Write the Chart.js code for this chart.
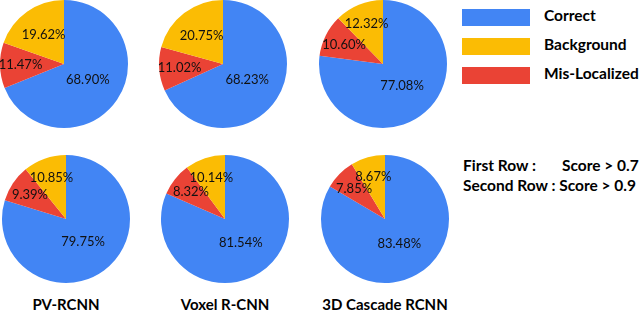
<!DOCTYPE html>
<html>
<head>
<meta charset="utf-8">
<script src="https://cdn.jsdelivr.net/npm/chart.js@4.4.1/dist/chart.umd.min.js"></script>
<style>
  html, body { margin: 0; padding: 0; background: #fff; }
  body { width: 640px; height: 312px; position: relative; overflow: hidden; font-family: Lato, "Open Sans", sans-serif; }
  .pie { position: absolute; width: 130px; height: 130px; }
  .title { position: absolute; font-weight: bold; font-size: 15px; color: #000; transform: translateX(-50%); white-space: nowrap; top: 295px; }
  .legend { position: absolute; left: 462px; font-weight: bold; font-size: 15.5px; color: #000; }
  .legend .row { position: absolute; left: 0; height: 17px; white-space: nowrap; }
  .legend .box { position: absolute; left: 0; top: 0; width: 68px; height: 17px; }
  .legend .lab { position: absolute; left: 82px; top: -3px; }
  .note { position: absolute; left: 463px; font-weight: bold; font-size: 15.5px; color: #000; white-space: nowrap; }
</style>
</head>
<body>
<canvas id="pie0" class="pie"></canvas>
<canvas id="pie1" class="pie"></canvas>
<canvas id="pie2" class="pie"></canvas>
<canvas id="pie3" class="pie"></canvas>
<canvas id="pie4" class="pie"></canvas>
<canvas id="pie5" class="pie"></canvas>
<div id="titles"></div>
<div class="legend" id="legend"></div>
<div class="note" style="top:156px">First Row :</div>
<div class="note" style="top:156px;left:562px">Score &gt; 0.7</div>
<div class="note" style="top:176px">Second Row : Score &gt; 0.9</div>
<script>
// slice order clockwise from 12 o'clock: Correct, Mis-Localized, Background
const categories = ['Correct', 'Mis-Localized', 'Background'];
const colors = ['#4285F4', '#EA4335', '#FBBC04'];
const models = ['PV-RCNN', 'Voxel R-CNN', '3D Cascade RCNN'];

// first row: score > 0.7
const row1PV = [68.90, 11.47, 19.62];
const row1Voxel = [68.23, 11.02, 20.75];
const row1Cascade = [77.08, 10.60, 12.32];
// second row: score > 0.9
const row2PV = [79.75, 9.39, 10.85];
const row2Voxel = [81.54, 8.32, 10.14];
const row2Cascade = [83.48, 7.85, 8.67];

const pieData = [row1PV, row1Voxel, row1Cascade, row2PV, row2Voxel, row2Cascade];
const colX = [64, 223, 383];
const rowY = [64, 219];

const legendOrder = [0, 2, 1];

const labelPlugin = {
  id: 'sliceLabels',
  afterDatasetsDraw(chart) {
    const { ctx } = chart;
    const meta = chart.getDatasetMeta(0);
    const values = chart.data.datasets[0].data;
    ctx.save();
    ctx.font = '13px Lato, "Open Sans", sans-serif';
    ctx.fillStyle = '#111';
    ctx.textAlign = 'center';
    ctx.textBaseline = 'middle';
    meta.data.forEach((arc, i) => {
      const { x, y, startAngle, endAngle, outerRadius } = arc.getProps(['x', 'y', 'startAngle', 'endAngle', 'outerRadius'], true);
      const mid = (startAngle + endAngle) / 2;
      const f = values[i] > 50 ? 0.45 : values[i] > 15 ? 0.55 : 0.68;
      const r = outerRadius * f;
      ctx.fillText(values[i].toFixed(2) + '%', x + Math.cos(mid) * r, y + Math.sin(mid) * r);
    });
    ctx.restore();
  },
};

pieData.forEach((values, idx) => {
  const canvas = document.getElementById('pie' + idx);
  const cx = colX[idx % 3] + (idx >= 3 ? 2 : 0);
  const cy = rowY[Math.floor(idx / 3)];
  canvas.style.left = (cx - 65) + 'px';
  canvas.style.top = (cy - 65) + 'px';
  new Chart(canvas, {
    type: 'pie',
    data: {
      labels: categories,
      datasets: [{ data: values, backgroundColor: colors, borderWidth: 0 }],
    },
    options: {
      responsive: false,
      animation: false,
      events: [],
      layout: { padding: 1 },
      plugins: { legend: { display: false }, tooltip: { enabled: false } },
    },
    plugins: [labelPlugin],
  });
});

const titles = document.getElementById('titles');
models.forEach((name, i) => {
  const el = document.createElement('div');
  el.className = 'title';
  el.textContent = name;
  el.style.left = (colX[i] + 2) + 'px';
  titles.appendChild(el);
});

const legend = document.getElementById('legend');
legendOrder.forEach((ci, k) => {
  const row = document.createElement('div');
  row.className = 'row';
  row.style.top = (9 + k * 29) + 'px';
  row.innerHTML = '<div class="box" style="background:' + colors[ci] + '"></div><div class="lab">' + categories[ci] + '</div>';
  legend.appendChild(row);
});
</script>
</body>
</html>
